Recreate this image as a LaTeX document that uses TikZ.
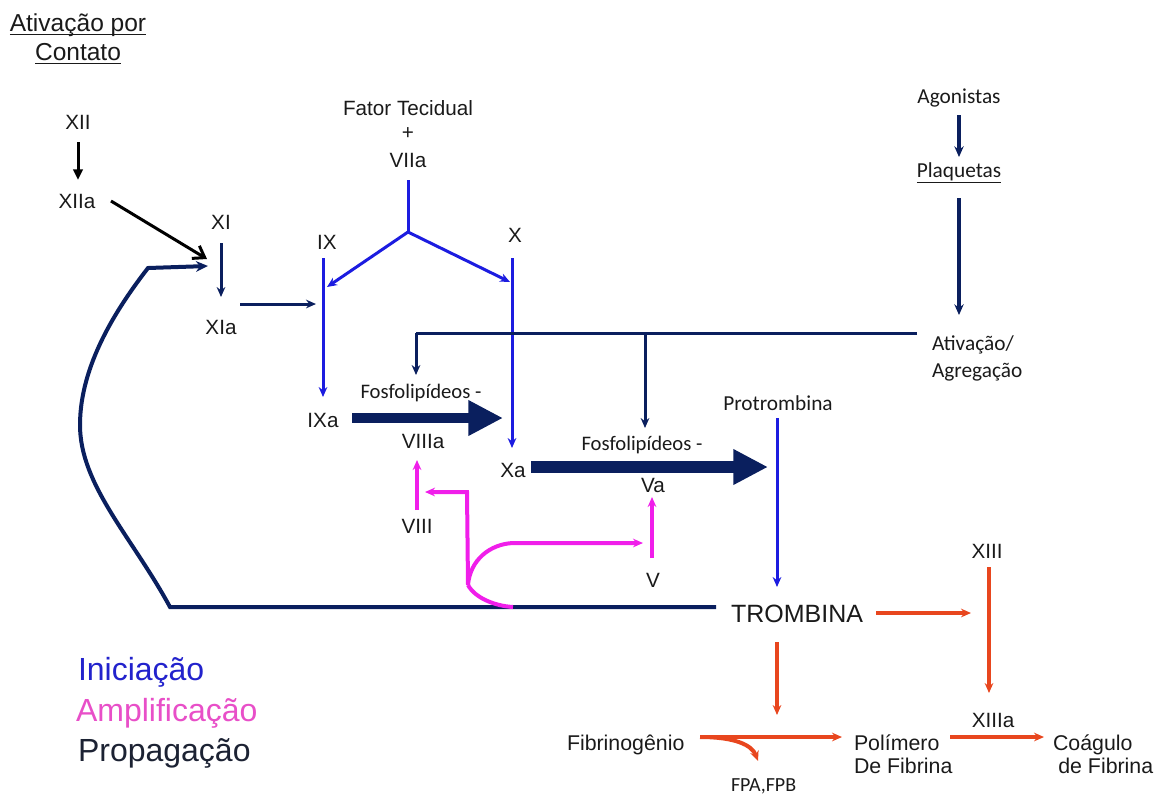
\documentclass[tikz,border=0pt]{standalone}
\usepackage{fontspec}
\setmainfont{Liberation Sans}
\newfontfamily\calib{Carlito}
\usetikzlibrary{arrows.meta}
\definecolor{navy}{HTML}{0A1F5E}
\definecolor{iniblue}{HTML}{1C1CE0}
\definecolor{ampink}{HTML}{F01EEA}
\definecolor{redor}{HTML}{E8461E}
\definecolor{txt}{HTML}{1A1A1A}
\definecolor{leginit}{HTML}{2222CC}
\definecolor{legamp}{HTML}{E84FC8}
\definecolor{legprop}{HTML}{1C2233}
\begin{document}
\begin{tikzpicture}[x=0.75pt,y=-0.75pt,
  base/.style={inner sep=0pt,outer sep=0pt,anchor=base,text=txt},
  lbl/.style={base,font=\fontsize{15.5}{18}\selectfont},
  big/.style={base,font=\fontsize{16}{17.25}\selectfont},
  cal/.style={base,font=\calib\fontsize{16}{20.25}\selectfont},
  hdr/.style={base,font=\fontsize{18.4}{22}\selectfont},
  leg/.style={base,anchor=base west,font=\fontsize{24}{28}\selectfont},
  tip/.style={-{Stealth[length=7.5pt,width=6.5pt]}},
  blk/.style={black,line width=2.25pt},
  nv/.style={navy,line width=2.25pt},
  bl/.style={iniblue,line width=2.25pt},
  pk/.style={ampink,line width=3pt},
  rd/.style={redor,line width=3pt},
  bigarr/.style={navy,-{Triangle[length=26pt,width=25pt]}}
]
\useasboundingbox (0,0) rectangle (1163,794);

% ---- header
\node[hdr] (h1) at (78,31) {Ativação por};
\node[hdr] (h2) at (78,60) {Contato};
\draw[txt,line width=1.1pt] ([yshift=-2.6pt]h1.base west) -- ([yshift=-2.6pt]h1.base east);
\draw[txt,line width=1.1pt] ([yshift=-2.6pt]h2.base west) -- ([yshift=-2.6pt]h2.base east);

% ---- labels
\node[lbl] (xii) at (78,129) {XII};
\node[lbl] (xiia) at (77,208) {XIIa};
\node[lbl] (xi) at (221,229) {XI};
\node[lbl] (xia) at (221,334) {XIa};
\node[lbl] (ix) at (327,249) {IX};
\node[lbl] (x) at (515,242) {X};
\node[lbl] (ft) at (408,115) {Fator Tecidual};
\node[lbl] (plus) at (408,139) {+};
\node[lbl] (viia) at (408,167) {VIIa};
\node[lbl] (ixa) at (323,427) {IXa};
\node[lbl] (viiia) at (423,448) {VIIIa};
\node[lbl] (xa) at (513,477) {Xa};
\node[lbl] (va) at (653,492) {Va};
\node[lbl] (viii) at (417,533) {VIII};
\node[lbl] (v) at (653,587) {V};
\node[base,font=\calib\fontsize{15.5}{18}\selectfont] (fos1) at (421,398) {Fosfolipídeos -};
\node[base,font=\calib\fontsize{15.5}{18}\selectfont] (fos2) at (642,450) {Fosfolipídeos -};
\node[cal] (prot) at (778,410) {Protrombina};
\node[base,font=\fontsize{18.75}{22}\selectfont] (trom) at (797,622) {TROMBINA};
\node[lbl] (xiii) at (987,558) {XIII};
\node[lbl] (xiiia) at (993,727) {XIIIa};
\node[big,anchor=base west] (fib) at (567,750) {Fibrinogênio};
\node[big,anchor=base west,align=left] (pol) at (854,773) {Polímero\\De Fibrina};
\node[big,anchor=base west,align=left] (coag) at (1053,773) {Coágulo\\\hspace*{4pt}de Fibrina};
\node[base,anchor=base west,font=\calib\fontsize{15}{17}\selectfont] (fpa) at (731,791) {FPA,FPB};

% platelets
\node[cal] (ago) at (959,103) {Agonistas};
\node[cal] (plaq) at (959,177) {Plaquetas};
\draw[txt,line width=0.9pt] ([yshift=-4.3pt]plaq.base west) -- ([yshift=-4.3pt]plaq.base east);
\node[cal,anchor=base west,align=left] (ativ) at (932,377) {Ativação/\\Agregação};

% legend
\node[leg,text=leginit] (l1) at (78,680) {Iniciação};
\node[leg,text=legamp] (l2) at (76,721) {Amplificação};
\node[leg,text=legprop] (l3) at (78,761) {Propagação};

% ---- coordinates
\coordinate (xiiS) at (78,142);  \coordinate (xiiaN) at (78,180);
\coordinate (xiiaE) at (111,201); \coordinate (xiW) at (207,259);
\coordinate (xiS) at (221,243);  \coordinate (xiaN) at (221,297);
\coordinate (xiaE) at (240,304); \coordinate (ixL) at (316,304);
\coordinate (ftS) at (408,180);  \coordinate (yj) at (408,232);
\coordinate (ixT) at (323,258);  \coordinate (ixB) at (323,397);
\coordinate (ixH) at (327,287);
\coordinate (xT) at (512,258);   \coordinate (xB) at (512,448);
\coordinate (xH) at (510,282);
\coordinate (agR) at (917,333);  \coordinate (agL) at (416,333);
\coordinate (agM) at (645,333);
\coordinate (fos1T) at (416,375); \coordinate (fos2T) at (645,428);
\coordinate (agoS) at (959,115); \coordinate (plaqN) at (959,157);
\coordinate (plaqS) at (959,198); \coordinate (ativN) at (959,315);
\coordinate (b1s) at (352,418);  \coordinate (b1e) at (503,418);
\coordinate (b2s) at (531,467);  \coordinate (b2e) at (768,467);
\coordinate (protS) at (777,418); \coordinate (tromN) at (777,587);
\coordinate (fbR) at (716,607);  \coordinate (fbC) at (170,607);
\coordinate (fbL) at (80,425);   \coordinate (fbK) at (148,268);
\coordinate (fbT) at (208,266);
\coordinate (viiiN) at (417,510); \coordinate (viiiaS) at (417,460);
\coordinate (vN) at (652,558);   \coordinate (vaS) at (652,497);
\coordinate (pkTop) at (467,492); \coordinate (pkL) at (425,492);
\coordinate (pkJ) at (468,585);  \coordinate (pkB) at (513,607);
\coordinate (pkU) at (513,543);  \coordinate (pkR) at (643,543);
\coordinate (tromE) at (876,613); \coordinate (xiiiW) at (971,613);
\coordinate (xiiiS) at (989,567); \coordinate (xiiiaN) at (989,693);
\coordinate (tromS) at (777,642); \coordinate (fibN) at (777,715);
\coordinate (fibE) at (700,737); \coordinate (polW) at (842,737);
\coordinate (fpaN) at (758,761);
\coordinate (polE) at (950,737); \coordinate (coagW) at (1044,737);

% ---- contact activation (black)
\draw[blk,-{Triangle[length=8pt,width=7pt]}] (xiiS) -- (xiiaN);
\draw[blk,-{Straight Barb[length=8pt,width=11pt]}] (xiiaE) -- (xiW);

% ---- navy thin
\draw[nv,tip] (xiS) -- (xiaN);
\draw[nv,tip] (xiaE) -- (ixL);

% ---- initiation (blue)
\draw[bl] (ftS) -- (yj);
\draw[bl,tip] (yj) -- (ixH);
\draw[bl,tip] (yj) -- (xH);
\draw[bl,tip] (ixT) -- (ixB);
\draw[bl,tip] (xT) -- (xB);
\draw[bl,tip] (protS) -- (tromN);

% ---- platelets
\draw[navy,line width=3pt,-{Stealth[length=8pt,width=7pt]}] (agoS) -- (plaqN);
\draw[navy,line width=3pt,-{Stealth[length=8pt,width=7pt]}] (plaqS) -- (ativN);
\draw[nv] (agR) -- (agL);
\draw[nv,tip] (agL) -- (fos1T);
\draw[nv,tip] (agM) -- (fos2T);

% ---- big complexes
\draw[bigarr,line width=7.5pt] (b1s) -- (b1e);
\draw[bigarr,line width=9pt] (b2s) -- (b2e);

% ---- feedback (propagation)
\draw[navy,line width=3pt,-{Stealth[length=9pt,width=8pt]}] (fbR) -- (fbC)
  .. controls (132,537) and (80,485) .. (fbL)
  .. controls (80,365) and (117,308) .. (fbK) -- (fbT);

% ---- amplification (pink)
\draw[pk,tip] (viiiN) -- (viiiaS);
\draw[pk,tip] (vN) -- (vaS);
\draw[pk,tip] (pkJ) -- (pkTop) -- (pkL);
\draw[pk,tip] (pkJ) .. controls (470,560) and (490,544) .. (pkU) -- (pkR);
\draw[pk] (pkJ) .. controls (475,598) and (495,606) .. (pkB);

% ---- red
\draw[rd,tip] (tromE) -- (xiiiW);
\draw[rd,tip] (xiiiS) -- (xiiiaN);
\draw[rd,tip] (tromS) -- (fibN);
\draw[rd,tip] (fibE) -- (polW);
\draw[rd,tip] (fibE) .. controls (735,737) and (752,745) .. (fpaN);
\draw[rd,tip] (polE) -- (coagW);
\end{tikzpicture}
\end{document}
